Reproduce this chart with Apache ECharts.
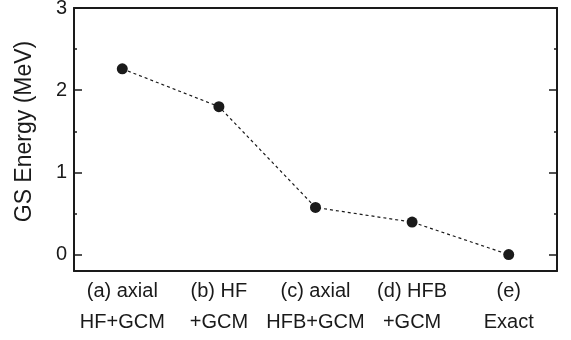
<!DOCTYPE html>
<html>
<head>
<meta charset="utf-8">
<script src="https://cdn.jsdelivr.net/npm/echarts@6/dist/echarts.min.js"></script>
<style>
    html, body { margin: 0; padding: 0; background: #fff; }
    #chart { width: 571px; height: 340px; }
</style>
</head>
<body>
<div id="chart"></div>
<script>
// methods on x axis, ground state energies on y
var categories = ['(a) axial\nHF+GCM', '(b) HF\n+GCM', '(c) axial\nHFB+GCM', '(d) HFB\n+GCM', '(e)\nExact'];
var gsEnergy = [2.26, 1.80, 0.573, 0.395, 0];
var majorTicks = [0, 1, 2, 3];
var minorTicks = [0.5, 1.5, 2.5];

var ink = '#1a1a1a';
var font = 'Liberation Sans';

var chart = echarts.init(document.getElementById('chart'), null, { renderer: 'canvas' });

function yAxis(position, ticks, tickLength, withLabels) {
    return {
        type: 'value',
        position: position,
        min: -0.2,
        max: 3,
        axisLine: { show: withLabels !== null, onZero: false, lineStyle: { color: ink, width: 2 } },
        axisTick: { show: true, inside: true, length: tickLength, customValues: ticks, lineStyle: { color: ink, width: 1.5 } },
        axisLabel: withLabels ? { show: true, customValues: ticks, margin: 7, color: ink, fontSize: 20, fontFamily: font } : { show: false },
        splitLine: { show: false }
    };
}

var leftAxis = yAxis('left', majorTicks, 8, true);
leftAxis.name = 'GS Energy (MeV)';
leftAxis.nameLocation = 'middle';
leftAxis.nameGap = 38;
leftAxis.nameTextStyle = { color: ink, fontSize: 23, fontFamily: font, padding: [0, 0, 0, 16] };

var options = {
    animation: false,
    grid: { left: 74, right: 14, top: 8, bottom: 69, outerBoundsMode: 'none' },
    xAxis: [
        {
            type: 'category',
            position: 'bottom',
            data: categories,
            axisLine: { onZero: false, lineStyle: { color: ink, width: 2 } },
            axisTick: { inside: true, alignWithLabel: true, length: 6, lineStyle: { color: ink, width: 1.5 } },
            axisLabel: { margin: 5, color: ink, fontSize: 20, lineHeight: 31, fontFamily: font, interval: 0 },
            splitLine: { show: false }
        },
        {
            type: 'category',
            position: 'top',
            data: categories,
            axisLine: { onZero: false, lineStyle: { color: ink, width: 2 } },
            axisTick: { inside: true, alignWithLabel: true, length: 5, lineStyle: { color: ink, width: 1.5 } },
            axisLabel: { show: false },
            splitLine: { show: false }
        },
        {
            type: 'category',
            position: 'top',
            data: categories,
            axisLine: { show: false, onZero: false },
            axisTick: { inside: true, length: 3, interval: 0, lineStyle: { color: ink, width: 1.2 } },
            axisLabel: { show: false },
            splitLine: { show: false }
        }
    ],
    yAxis: [
        leftAxis,
        yAxis('left', minorTicks, 3, null),
        yAxis('right', majorTicks, 8, false),
        yAxis('right', minorTicks, 3, null)
    ],
    series: [
        {
            type: 'line',
            xAxisIndex: 0,
            yAxisIndex: 0,
            data: gsEnergy,
            symbol: 'circle',
            symbolSize: 11,
            itemStyle: { color: ink },
            lineStyle: { color: ink, width: 1.2, type: [3, 3] },
            silent: true
        }
    ]
};

chart.setOption(options);
</script>
</body>
</html>
